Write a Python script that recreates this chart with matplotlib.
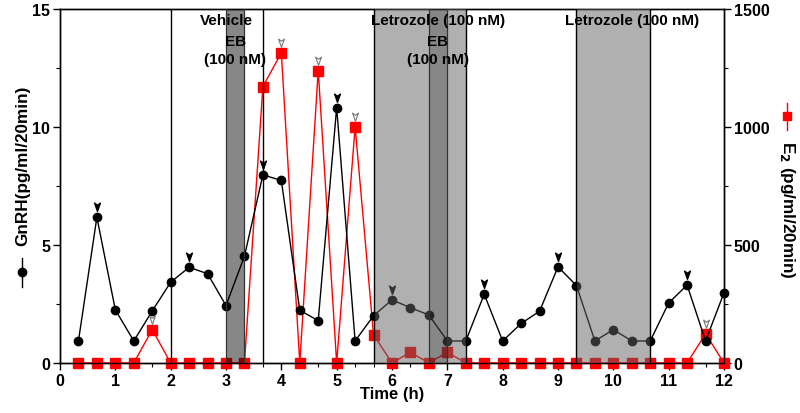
import matplotlib
matplotlib.use("Agg")
import matplotlib.pyplot as plt
import numpy as np
from matplotlib.path import Path
from matplotlib.lines import Line2D
from matplotlib.transforms import offset_copy

plt.rcParams['font.family'] = ['Liberation Sans', 'DejaVu Sans']
plt.rcParams['font.weight'] = 'bold'

# sampling times, minutes (every 20 min)
sample_min = [20, 40, 60, 80, 100, 120, 140, 160, 180, 200, 220, 240,
              260, 280, 300, 320, 340, 360, 380, 400, 420, 440, 460, 480,
              500, 520, 540, 560, 580, 600, 620, 640, 660, 680, 700, 720]

gnrh = [0.93, 6.17, 2.25, 0.93, 2.2, 3.42, 4.05, 3.78, 2.43, 4.52, 7.97, 7.73,
        2.23, 1.79, 10.82, 0.93, 2.0, 2.67, 2.34, 2.03, 0.93, 0.93, 2.91, 0.93,
        1.67, 2.19, 4.07, 3.28, 0.93, 1.41, 0.93, 0.93, 2.54, 3.3, 0.93, 2.97]

e2 = [0, 0, 0, 0, 141, 0, 0, 0, 0, 0, 1171, 1314,
      0, 1239, 0, 1000, 119, 0, 45, 0, 45, 0, 0, 0,
      0, 0, 0, 0, 0, 0, 0, 0, 0, 0, 123, 0]

# pulse markers (minutes)
gnrh_pulses = [40, 140, 220, 300, 360, 460, 540, 680]
e2_pulses = [100, 240, 280, 320, 700]

# treatment periods (h)
vehicle_box = (2.0, 3.667)
eb_periods = [(3.0, 3.333), (6.667, 7.0)]
letrozole_periods = [(5.667, 7.333), (9.333, 10.667)]

t = np.array(sample_min) / 60.0
gnrh = np.array(gnrh)
e2 = np.array(e2)

fig = plt.figure(figsize=(8, 4.14), dpi=100)
ax = fig.add_axes([0.075, 0.121, 0.830, 0.855])
ax2 = ax.twinx()
ax.set_xlim(0, 12)
ax.set_ylim(0, 15)
ax2.set_ylim(0, 1500)

# both series live on ax2 so GnRH can sit above E2
ax2.plot(t, e2, '-s', color='#ff0000', lw=1.0, ms=6.5, clip_on=False, zorder=2)
ax2.plot(t, gnrh, '-o', color='black', lw=1.0, ms=6, clip_on=False, zorder=2.5,
         transform=ax.transData)

# arrowheads
arrow = Path([(0, -1), (-0.6, 0.7), (0, 0.25), (0.6, 0.7), (0, -1)],
             [Path.MOVETO, Path.LINETO, Path.LINETO, Path.LINETO, Path.CLOSEPOLY])
g_idx = [sample_min.index(m) for m in gnrh_pulses]
e_idx = [sample_min.index(m) for m in e2_pulses]
tr1 = offset_copy(ax.transData, fig=fig, x=0, y=11, units='dots')
tr2 = offset_copy(ax2.transData, fig=fig, x=0, y=11, units='dots')
ax2.plot(t[g_idx], gnrh[g_idx], ls='none', marker=arrow, ms=7, color='black',
         transform=tr1, zorder=2.6)
ax2.plot(t[e_idx], e2[e_idx], ls='none', marker=arrow, ms=7, mfc='white',
         mec='#777777', mew=0.8, transform=tr2, zorder=4)

# shading on top of the data
for a, b in letrozole_periods:
    ax2.axvspan(a, b, facecolor=(0.39, 0.39, 0.39), alpha=0.5, edgecolor='none', zorder=3)
    ax2.axvline(a, color='black', lw=1.0, zorder=3)
    ax2.axvline(b, color='black', lw=1.0, zorder=3)
ax2.axvspan(*eb_periods[0], facecolor='black', alpha=0.47, edgecolor='none', zorder=3)
ax2.axvspan(*eb_periods[1], facecolor='black', alpha=0.23, edgecolor='none', zorder=3)
for a, b in eb_periods:
    ax2.axvline(a, color='#333333', lw=0.9, zorder=3)
    ax2.axvline(b, color='#333333', lw=0.9, zorder=3)
for x in vehicle_box:
    ax2.axvline(x, color='black', lw=1.0, zorder=3)

# treatment labels
lab = dict(ha='center', va='center', fontsize=11, fontweight='bold',
           transform=ax.transData, zorder=6)
ax2.text(3.0, 14.53, 'Vehicle', **lab)
ax2.text(3.17, 13.64, 'EB', **lab)
ax2.text(3.17, 12.88, '(100 nM)', **lab)
ax2.text(6.83, 14.53, 'Letrozole (100 nM)', **lab)
ax2.text(6.83, 13.64, 'EB', **lab)
ax2.text(6.83, 12.88, '(100 nM)', **lab)
ax2.text(10.33, 14.53, 'Letrozole (100 nM)', **lab)

# axes
ax.set_xticks(range(0, 13))
ax.set_xticks(t, minor=True)
ax.set_yticks([0, 5, 10, 15])
ax.set_yticks([2.5, 7.5, 12.5], minor=True)
ax2.set_yticks([0, 500, 1000, 1500])
ax2.set_yticks([250, 750, 1250], minor=True)
for a_ in (ax, ax2):
    a_.tick_params(which='major', direction='out', length=5, width=1.0,
                   labelsize=11.5, pad=2)
    a_.tick_params(which='minor', direction='out', length=3, width=0.8)
    for s in a_.spines.values():
        s.set_linewidth(1.0)
for lbl in ax.get_xticklabels() + ax.get_yticklabels() + ax2.get_yticklabels():
    lbl.set_fontweight('bold')

fig.text(0.49, 0.046, 'Time (h)', ha='center', va='center', fontsize=12,
         fontweight='bold')

# y labels with legend symbols
fig.text(0.028, 1 - 166 / 414, 'GnRH(pg/ml/20min)', rotation=90, ha='center',
         va='center', fontsize=12.3, fontweight='bold')
fig.add_artist(Line2D([0.028, 0.028], [1 - 259 / 414, 1 - 288 / 414], color='black',
                      lw=1.0, transform=fig.transFigure))
fig.add_artist(Line2D([0.028], [1 - 273 / 414], marker='o', ms=6, color='black',
                      transform=fig.transFigure))

fig.text(0.984, 1 - 210 / 414, 'E$_\\mathbf{2}$ (pg/ml/20min)', rotation=270,
         ha='center', va='center', fontsize=12.3, fontweight='bold')
fig.add_artist(Line2D([0.984, 0.984], [1 - 104 / 414, 1 - 131 / 414], color='#ff0000',
                      lw=1.0, transform=fig.transFigure))
fig.add_artist(Line2D([0.984], [1 - 117 / 414], marker='s', ms=6, color='#ff0000',
                      transform=fig.transFigure))

fig.savefig('out.png', dpi=100)
